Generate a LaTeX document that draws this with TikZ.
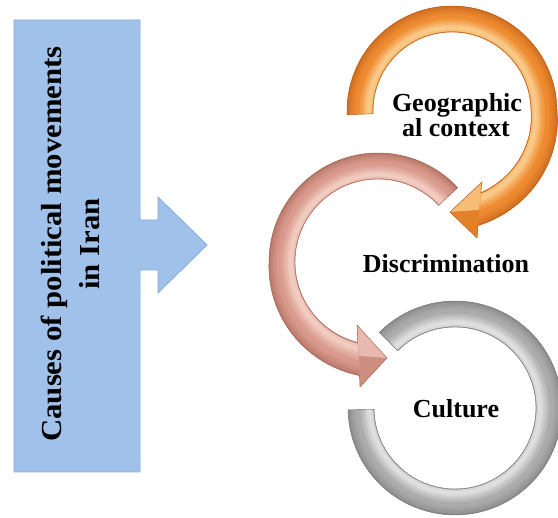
\documentclass[tikz,border=0pt]{standalone}
\usepackage{fontspec}
\usepackage{graphicx}
\setmainfont{Liberation Serif}

\definecolor{boxfill}{HTML}{A0C2EA}
\definecolor{boxedge}{HTML}{86AADB}
\definecolor{orbase}{HTML}{EE8A30}
\definecolor{orhi}{HTML}{FCD89C}
\definecolor{ordark}{HTML}{B85A14}
\definecolor{pkbase}{HTML}{D9998C}
\definecolor{pkhi}{HTML}{F6D6CC}
\definecolor{pkdark}{HTML}{A0604F}
\definecolor{grbase}{HTML}{ABABAB}
\definecolor{grhi}{HTML}{EAEAEA}
\definecolor{grdark}{HTML}{767676}

% band inside each ring at a given fraction of its width (0 inner, 1 outer)
\newcommand{\orband}[3]{plot[domain=#1:#2,samples=80,variable=\t]
  ({452+(79+8*max(0,-\t/74)+#3*(26+4*max(0,-\t/74)))*cos(\t)},
   {407+(79+8*max(0,-\t/74)+#3*(26+4*max(0,-\t/74)))*sin(\t)})}
\newcommand{\pkband}[3]{plot[domain=#1:#2,samples=80,variable=\t]
  ({378+(83+#3*(26+6*max(0,(\t-180)/80)))*cos(\t)},
   {256+(83+#3*(26+6*max(0,(\t-180)/80)))*sin(\t)})}
\newcommand{\grband}[3]{plot[domain=#1:#2,samples=80,variable=\t]
  ({455+(81+#3*26)*cos(\t)},{110+(81+#3*26)*sin(\t)})}

% ring outlines (spiral bodies with arrow heads)
\newcommand{\orangering}{plot[domain=182:-77.2,samples=90,variable=\t]
  ({452+(105+12*max(0,-\t/74))*cos(\t)},{407+(105+12*max(0,-\t/74))*sin(\t)})
  -- (477,280) -- (450,306) -- (482,336)
  -- plot[domain=-70.6:182,samples=90,variable=\t]
  ({452+(79+8*max(0,-\t/74))*cos(\t)},{407+(79+8*max(0,-\t/74))*sin(\t)}) -- cycle}
\newcommand{\pinkring}{plot[domain=43:260.8,samples=90,variable=\t]
  ({378+(109+6*max(0,(\t-180)/80))*cos(\t)},{256+(109+6*max(0,(\t-180)/80))*sin(\t)})
  -- (360,131) -- (387,160) -- (357,193)
  -- plot[domain=255.9:43,samples=90,variable=\t]
  ({378+83*cos(\t)},{256+83*sin(\t)}) -- cycle}
\newcommand{\grayring}{plot[domain=135:-179,samples=90,variable=\t]
  ({455+107*cos(\t)},{110+107*sin(\t)})
  -- plot[domain=-179:135,samples=90,variable=\t]
  ({455+81*cos(\t)},{110+81*sin(\t)}) -- cycle}

\begin{document}
\begin{tikzpicture}[x=1pt,y=1pt,
  lbl/.style={font=\fontsize{26}{25}\selectfont\bfseries, inner sep=0pt, anchor=base},
  causetext/.style={font=\fontsize{29}{38}\selectfont\bfseries, align=center, rotate=90, inner sep=0pt},
  band/.style={line width=3}]
\useasboundingbox (0,0) rectangle (558,518);
\fill[white] (0,0) rectangle (558,518);
\clip (0,0) rectangle (558,518);

% left panel with its arrow
\draw[fill=boxfill, draw=boxedge, line width=0.8]
  (14,498) -- (140,498) -- (140,298) -- (158,298) -- (158,321) -- (207,273)
  -- (158,225) -- (158,248) -- (140,248) -- (140,46) -- (14,46) -- cycle;
\node[causetext] (cause) at (70,274)
  {\scalebox{1.06}[1]{Causes of political movements}\\\scalebox{1.06}[1]{in Iran}};

% shading profile across a ring, inner edge to outer edge
\def\profile{0/30/dark,1/70/hi,2/85/hi,3/75/hi,4/55/hi,5/35/hi,6/18/hi,7/0/hi,8/0/hi,9/12/dark,10/25/dark,11/40/dark,12/58/dark}

% gray ring
\begin{scope}
  \clip \grayring;
  \fill[grbase] \grayring;
  \foreach \k/\p/\c in \profile
    \draw[band, color=gr\c!\p!grbase] \grband{140}{-185}{\k/12};
\end{scope}
\draw[grdark, line width=0.4] \grayring;

% pink arrow
\begin{scope}
  \clip \pinkring;
  \fill[pkbase] \pinkring;
  \foreach \k/\p/\c in \profile
    \draw[band, color=pk\c!\p!pkbase] \pkband{38}{261}{\k/12};
  \fill[pkbase] (360,131) -- (387,160) -- (357,193) -- cycle;
  \fill[pkhi, opacity=.55] (357,193) -- (387,160) -- (359,162) -- cycle;
  \fill[pkdark, opacity=.2] (360,131) -- (387,160) -- (359,162) -- cycle;
\end{scope}
\draw[pkdark, line width=0.4] \pinkring;

% orange arrow
\begin{scope}
  \clip \orangering;
  \fill[orbase] \orangering;
  \foreach \k/\p/\c in \profile
    \draw[band, color=or\c!\p!orbase] \orband{186}{-77}{\k/12};
  \fill[orbase] (477,280) -- (450,306) -- (482,336) -- cycle;
  \fill[orhi, opacity=.65] (482,336) -- (450,306) -- (479,308) -- cycle;
  \fill[ordark, opacity=.2] (477,280) -- (450,306) -- (479,308) -- cycle;
\end{scope}
\draw[ordark, line width=0.4] \orangering;

% labels
\node[lbl] (geo1) at (457,406) {Geographic};
\node[lbl] (geo2) at (456,381) {al context};
\node[lbl] (disc) at (446,245) {Discrimination};
\node[lbl] (cult) at (456,100) {Culture};
\end{tikzpicture}
\end{document}
